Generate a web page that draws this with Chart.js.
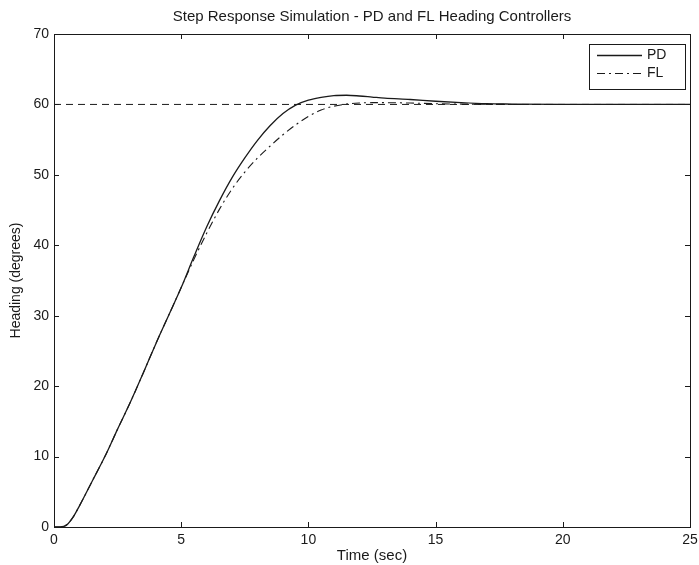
<!DOCTYPE html>
<html>
<head>
<meta charset="utf-8">
<script src="https://cdn.jsdelivr.net/npm/chart.js@4/dist/chart.umd.min.js"></script>
<style>
html,body{margin:0;padding:0;background:#fff;}
#wrap{width:699px;height:565px;position:relative;}
</style>
</head>
<body>
<div id="wrap"><canvas id="c" width="699" height="565"></canvas></div>
<script>
// ---- data ----
const timePD = [0, 0.25, 0.5, 0.75, 1.0, 1.5, 2.0, 2.5, 3.0, 3.5, 4.0, 4.5, 5.0, 5.5, 6.0, 6.5, 7.0, 7.5, 8.0, 8.5, 9.0, 9.5, 10.0, 10.5, 11.0, 11.5, 12.0, 12.5, 13.0, 14.0, 15.0, 16.0, 17.0, 18.0, 20.0, 25.0];
const headingPD = [0, 0, 0.3, 1.4, 3.0, 6.5, 10.0, 13.9, 17.7, 21.8, 26.0, 30.0, 34.0, 38.4, 42.6, 46.3, 49.6, 52.4, 54.9, 57.0, 58.7, 59.9, 60.6, 61.0, 61.25, 61.3, 61.2, 61.05, 60.9, 60.7, 60.45, 60.25, 60.1, 60.05, 60.0, 60.0];
const timeFL = [0, 0.25, 0.5, 0.75, 1.0, 1.5, 2.0, 2.5, 3.0, 3.5, 4.0, 4.5, 5.0, 5.5, 6.0, 6.5, 7.0, 7.5, 8.0, 8.5, 9.0, 9.5, 10.0, 10.5, 11.0, 11.5, 12.0, 12.5, 13.0, 14.0, 15.0, 16.0, 18.0, 25.0];
const headingFL = [0, 0, 0.3, 1.4, 3.0, 6.5, 10.0, 13.9, 17.7, 21.8, 26.0, 30.0, 34.0, 38.0, 41.7, 45.1, 48.0, 50.4, 52.4, 54.1, 55.7, 57.1, 58.3, 59.2, 59.75, 60.05, 60.2, 60.25, 60.25, 60.2, 60.1, 60.05, 60.0, 60.0];
const timeRef = [0, 25];
const headingRef = [60, 60];
const xTicks = [0, 5, 10, 15, 20, 25];
const yTicks = [0, 10, 20, 30, 40, 50, 60, 70];
const seriesNames = ['PD', 'FL'];
const titleText = 'Step Response Simulation - PD and FL Heading Controllers';
const xLabel = 'Time (sec)';
const yLabel = 'Heading (degrees)';

const FONT = "'Liberation Sans', Arial, Helvetica, sans-serif";
const INK = '#1a1a1a';
const toXY = (xs, ys) => xs.map((x, i) => ({x: x, y: ys[i]}));

const framePlugin = {
  id: 'frame',
  afterDatasetsDraw(chart) {
    const ctx = chart.ctx, a = chart.chartArea;
    const xs = chart.scales.x, ys = chart.scales.y;
    ctx.save();
    ctx.strokeStyle = INK;
    ctx.lineWidth = 1;
    ctx.strokeRect(Math.round(a.left) + 0.5, Math.round(a.top) + 0.5, Math.round(a.right - a.left), Math.round(a.bottom - a.top));
    const L = 5;
    ctx.beginPath();
    xTicks.forEach(v => {
      const px = Math.round(xs.getPixelForValue(v)) + 0.5;
      ctx.moveTo(px, a.bottom); ctx.lineTo(px, a.bottom - L);
      ctx.moveTo(px, a.top); ctx.lineTo(px, a.top + L);
    });
    yTicks.forEach(v => {
      const py = Math.round(ys.getPixelForValue(v)) + 0.5;
      ctx.moveTo(a.left, py); ctx.lineTo(a.left + L, py);
      ctx.moveTo(a.right, py); ctx.lineTo(a.right - L, py);
    });
    ctx.stroke();

    // legend box
    const bx = 589, by = 44, bw = 96, bh = 45;
    ctx.fillStyle = '#fff';
    ctx.fillRect(bx, by, bw, bh);
    ctx.strokeRect(bx + 0.5, by + 0.5, bw, bh);
    ctx.font = '14px ' + FONT;
    ctx.textBaseline = 'middle';
    ctx.fillStyle = INK;
    [0, 1].forEach(i => {
      const ds = chart.data.datasets[i];
      const yy = by + 11 + i * 18 + 0.5;
      ctx.beginPath();
      ctx.setLineDash(ds.borderDash || []);
      ctx.lineWidth = ds.borderWidth;
      ctx.moveTo(bx + 8, yy); ctx.lineTo(bx + 53, yy);
      ctx.stroke();
      ctx.setLineDash([]);
      ctx.fillText(ds.label, bx + 58, yy);
    });
    ctx.restore();
  }
};

new Chart(document.getElementById('c'), {
  type: 'line',
  data: {
    datasets: [
      {label: seriesNames[0], data: toXY(timePD, headingPD), borderColor: INK, borderWidth: 1.3, pointRadius: 0, cubicInterpolationMode: 'monotone', fill: false},
      {label: seriesNames[1], data: toXY(timeFL, headingFL), borderColor: INK, borderWidth: 1.1, borderDash: [8, 4, 2, 4], pointRadius: 0, cubicInterpolationMode: 'monotone', fill: false},
      {label: 'ref', data: toXY(timeRef, headingRef), borderColor: INK, borderWidth: 1, borderDash: [7, 5], pointRadius: 0, fill: false}
    ]
  },
  options: {
    responsive: false,
    animation: false,
    layout: {padding: {left: 6, right: 9, top: 0, bottom: 0}},
    plugins: {
      legend: {display: false},
      tooltip: {enabled: false},
      title: {display: true, fullSize: false, text: titleText, color: INK, font: {family: FONT, size: 15, weight: 'normal'}, padding: {top: 8, bottom: 8}}
    },
    scales: {
      x: {
        type: 'linear', min: 0, max: 25,
        afterBuildTicks: s => { s.ticks = xTicks.map(v => ({value: v})); },
        afterFit: s => { s.height = 38; s.paddingRight = 0; s.paddingLeft = 0; },
        grid: {display: false, drawTicks: false},
        border: {display: false},
        ticks: {color: INK, font: {family: FONT, size: 14}, padding: 5, maxRotation: 0},
        title: {display: true, text: xLabel, color: INK, font: {family: FONT, size: 15}, padding: {top: 0, bottom: 0}}
      },
      y: {
        type: 'linear', min: 0, max: 70,
        afterBuildTicks: s => { s.ticks = yTicks.map(v => ({value: v})); },
        afterFit: s => { s.width = 48; },
        grid: {display: false, drawTicks: false},
        border: {display: false},
        ticks: {color: INK, font: {family: FONT, size: 14}, padding: 5},
        title: {display: true, text: yLabel, color: INK, font: {family: FONT, size: 14}, padding: {top: 2, bottom: 0}}
      }
    }
  },
  plugins: [framePlugin]
});
</script>
</body>
</html>
